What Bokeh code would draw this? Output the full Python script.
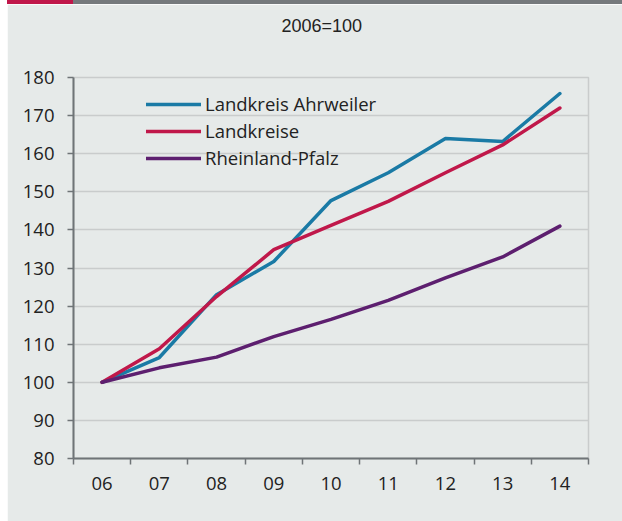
from bokeh.plotting import figure
from bokeh.layouts import column, row
from bokeh.models import (FixedTicker, Legend, LegendItem, Range1d, Div, Title, Spacer)
from bokeh.embed import file_html
from bokeh.resources import INLINE

# ---- data ----
years = ["06", "07", "08", "09", "10", "11", "12", "13", "14"]
ahrweiler = [100, 106.5, 123, 131.7, 147.7, 155, 164, 163.2, 175.8]
landkreise = [100, 108.8, 122.5, 134.8, 141.2, 147.5, 155, 162.3, 172]
rlp = [100, 103.8, 106.6, 112, 116.5, 121.5, 127.4, 132.9, 141]
y_ticks = [80, 90, 100, 110, 120, 130, 140, 150, 160, 170, 180]
title_text = "2006=100"

BG = "#e6eae9"
GRID = "#c9cccc"
AXIS = "#6f7477"
TXT = "#222222"
C_BLUE = "#1a7aa5"
C_RED = "#c0184a"
C_PURPLE = "#5d1f6f"

W, H = 622, 521
PAD_L = 7
FW = W - PAD_L
BAR_H = 4
LEFT, RIGHT, TOP, BOTTOM = 73 - PAD_L, 34, 77 - BAR_H, 63

xs = [i + 0.5 for i in range(len(years))]

bar = Div(text="", width=FW, height=BAR_H,
          styles={"background": "linear-gradient(to right, #c0174a 0px, #c0174a 66px, #75797c 66px, #75797c 100%)",
                  "margin": "0", "padding": "0"})

p = figure(width=FW, height=H - BAR_H, output_backend="svg", toolbar_location=None,
           x_range=Range1d(0, len(years)), y_range=Range1d(80, 180),
           min_border_left=LEFT, min_border_right=RIGHT, min_border_top=TOP, min_border_bottom=BOTTOM)
p.background_fill_color = BG
p.border_fill_color = BG
p.outline_line_color = GRID
p.outline_line_width = 1.5

p.title.text = title_text
p.title.align = "left"
p.title.offset = 208
p.title.standoff = 10
p.title.text_font = "Liberation Sans"
p.title.text_font_size = "18px"
p.title.text_font_style = "normal"
p.title.text_color = TXT
# blank spacer panel between the title and the frame
p.add_layout(Title(text=" ", text_font="Liberation Sans", text_font_size="18px",
                   standoff=15, text_color=BG), "above")

# axes
p.yaxis.ticker = FixedTicker(ticks=y_ticks)
p.xaxis.ticker = FixedTicker(ticks=xs, minor_ticks=list(range(len(years) + 1)))
p.xaxis.major_label_overrides = {x: lab for x, lab in zip(xs, years)}
for ax in (p.xaxis, p.yaxis):
    ax.axis_line_color = AXIS
    ax.axis_line_width = 2
    ax.major_tick_line_color = AXIS
    ax.major_tick_line_width = 1.5
    ax.major_tick_out = 6
    ax.major_tick_in = 0
    ax.minor_tick_line_color = None
    ax.major_label_text_font = "Open Sans"
    ax.major_label_text_font_size = "18.5px"
    ax.major_label_text_color = TXT
p.xaxis.major_tick_line_color = None
p.xaxis.minor_tick_line_color = AXIS
p.xaxis.minor_tick_line_width = 1.5
p.xaxis.minor_tick_out = 6
p.xaxis.minor_tick_in = 0
p.xaxis.major_label_standoff = 12
p.yaxis.major_label_standoff = 13

p.xgrid.grid_line_color = None
p.ygrid.grid_line_color = GRID
p.ygrid.grid_line_width = 1.5

r1 = p.line(xs, ahrweiler, line_color=C_BLUE, line_width=3.5, line_cap="round", line_join="round")
r2 = p.line(xs, landkreise, line_color=C_RED, line_width=3.5, line_cap="round", line_join="round")
r3 = p.line(xs, rlp, line_color=C_PURPLE, line_width=3.5, line_cap="round", line_join="round")

legend = Legend(items=[LegendItem(label="Landkreis Ahrweiler", renderers=[r1]),
                       LegendItem(label="Landkreise", renderers=[r2]),
                       LegendItem(label="Rheinland-Pfalz", renderers=[r3])],
                location=(73, 288), background_fill_alpha=0, border_line_color=None,
                glyph_width=55, glyph_height=20, label_height=20, label_standoff=4,
                spacing=2, padding=0, margin=0,
                label_text_font="Open Sans", label_text_font_size="18.5px", label_text_color=TXT)
p.add_layout(legend, "center")

layout = row(Spacer(width=PAD_L, height=H), column(bar, p, spacing=0), spacing=0)
open("out.html", "w").write(file_html(layout, INLINE))
